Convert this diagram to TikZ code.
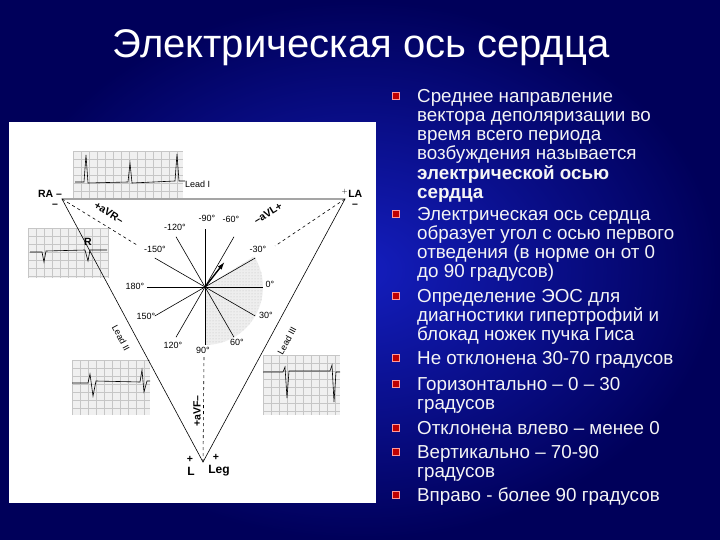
\documentclass[tikz,border=0pt]{standalone}
\usepackage{fontspec}
\setmainfont{Liberation Sans}
\usetikzlibrary{patterns,arrows.meta}
\tikzset{
 deg/.style={font=\fontsize{9}{10}\selectfont, inner sep=0pt},
 lbl/.style={font=\fontsize{10.5}{11}\selectfont\bfseries, inner sep=0pt},
 btxt/.style={anchor=north west, align=left, text=white!92!gray, inner sep=0pt, font=\fontsize{18.8}{19.2}\selectfont},
 bul/.style={fill=red!75!black, draw=red!40!white, line width=0.6pt, minimum size=7pt, inner sep=0pt},
 ray/.style={line width=0.6pt},
 grid/.style={fill=gray!12}
}
\newcommand{\ecgbox}[5]{% x y w h name
 \node[grid, minimum width=#3pt, minimum height=#4pt, anchor=north west, inner sep=0pt] (#5) at (#1,#2) {};
 \draw[gray!45, line width=0.3pt, xstep=8pt, ystep=8pt, shift={(#1,#2)}] (0,0) grid (#3,#4);
}
\begin{document}
\begin{tikzpicture}[x=1pt,y=-1pt]
\shade[inner color={rgb,255:red,20;green,30;blue,190}, outer color={rgb,255:red,0;green,0;blue,90}] (0,0) rectangle (720,540);
\useasboundingbox (0,0) rectangle (720,540);
\node[text=white, font=\fontsize{40}{42}\selectfont] (title) at (361,48) {Электрическая ось сердца};
% figure
\node[fill=white, minimum width=367pt, minimum height=381pt, inner sep=0pt, anchor=north west] (fig) at (9,122) {};
% ECG strips
\ecgbox{73}{151}{110}{47}{e1}
\draw[line width=0.6pt] (75,182) -- (84,182) -- (86,155) -- (88,183) -- (128,182) -- (130,163) -- (132,183) -- (175,181) -- (177,154) -- (179,181) -- (185,181);
\node[deg, anchor=west] (l1) at (185,184) {Lead I};
\ecgbox{28}{228}{80}{50}{e2}
\draw[line width=0.6pt] (30,252) -- (42,252) -- (44,262) -- (46,251) -- (85,250) -- (88,261) -- (90,250) -- (107,250);
\node[lbl] (rr) at (88,242) {R};
\ecgbox{72}{360}{78}{55}{e3}
\draw[line width=0.6pt] (72,383) -- (88,383) -- (90,374) -- (93,396) -- (96,381) -- (140,382) -- (142,370) -- (144,392) -- (147,381) -- (150,381);
\ecgbox{263}{355}{77}{60}{e4}
\draw[line width=0.6pt] (263,372) -- (283,372) -- (285,367) -- (287,398) -- (289,371) -- (330,371) -- (332,365) -- (334,402) -- (336,372) -- (340,372);
% triangle
\coordinate (RA) at (62,199);
\coordinate (LA) at (345,199);
\coordinate (LG) at (203,462);
\coordinate (C) at (205,287);
\draw[line width=0.6pt] (RA) -- (LA) -- (LG) -- cycle;
% shaded sector
\fill[pattern=dots, pattern color=gray!80] (C) -- ++(-32:58) arc (-32:90:58) -- cycle;
\fill[gray!25, opacity=0.5] (C) -- ++(-32:58) arc (-32:90:58) -- cycle;
% dashed axes
\draw[dashed, line width=0.6pt] (RA) -- (137,245);
\draw[dashed, line width=0.6pt] (LA) -- (275,246);
\draw[dashed, line width=0.6pt] (LG) -- (204,357);
% rays
\foreach \a in {0,30,60,90,120,150,180,-150,-120,-90,-60,-30}{
  \draw[ray] (C) -- ++(\a:58);
}
\draw[-{Latex[length=8pt,width=5pt]}, line width=1.4pt] (C) -- ++(-52:32);
% degree labels
\node[deg] (d1) at (207,218) {-90°};
\node[deg] (d2) at (175,227) {-120°};
\node[deg] (d3) at (231,219) {-60°};
\node[deg] (d4) at (155,249) {-150°};
\node[deg] (d5) at (258,249) {-30°};
\node[deg] (d6) at (135,286) {180°};
\node[deg] (d7) at (270,284) {0°};
\node[deg] (d8) at (146,316) {150°};
\node[deg] (d9) at (266,315) {30°};
\node[deg] (d10) at (173,345) {120°};
\node[deg] (d11) at (203,350) {90°};
\node[deg] (d12) at (237,342) {60°};
% corner labels
\node[lbl] (ra) at (50,194) {RA –};
\node[lbl] (ram) at (55,206) {–};
\node[lbl] (la) at (352,193) {$^+$LA};
\node[lbl] (lam) at (355,206) {–};
\node[lbl, rotate=-31.6] (avr) at (109,213) {+aVR–};
\node[lbl, rotate=31.6] (avl) at (268,213) {–aVL+};
\node[lbl, rotate=90] (avf) at (197,411) {+aVF–};
\node[deg, rotate=-61.8] (l2) at (121,338) {Lead II};
\node[deg, rotate=61.8] (l3) at (287,341) {Lead III};
\node[lbl, font=\fontsize{12}{13}\selectfont\bfseries] (ll) at (191,471) {L};
\node[lbl, font=\fontsize{12}{13}\selectfont\bfseries] (leg) at (219,471) {Leg};
\node[lbl] (p1) at (190,459) {+};
\node[lbl] (p2) at (216,457) {+};
% bullets
\foreach \y in {96,214,296,358,384,428,452,495}{\node[bul] at (396,\y) {};}
\node[btxt] (b1) at (417,89) {Среднее направление\\вектора деполяризации во\\время всего периода\\возбуждения называется\\\textbf{электрической осью}\\\textbf{сердца}};
\node[btxt] (b2) at (417,207) {Электрическая ось сердца\\образует угол с осью первого\\отведения (в норме он от 0\\до 90 градусов)};
\node[btxt] (b3) at (417,289) {Определение ЭОС для\\диагностики гипертрофий и\\блокад ножек пучка Гиса};
\node[btxt] (b4) at (417,351) {Не отклонена 30-70 градусов};
\node[btxt] (b5) at (417,377) {Горизонтально – 0 – 30\\градусов};
\node[btxt] (b6) at (417,421) {Отклонена влево – менее 0};
\node[btxt] (b7) at (417,445) {Вертикально – 70-90\\градусов};
\node[btxt] (b8) at (417,488) {Вправо  - более 90 градусов};
\end{tikzpicture}
\end{document}
